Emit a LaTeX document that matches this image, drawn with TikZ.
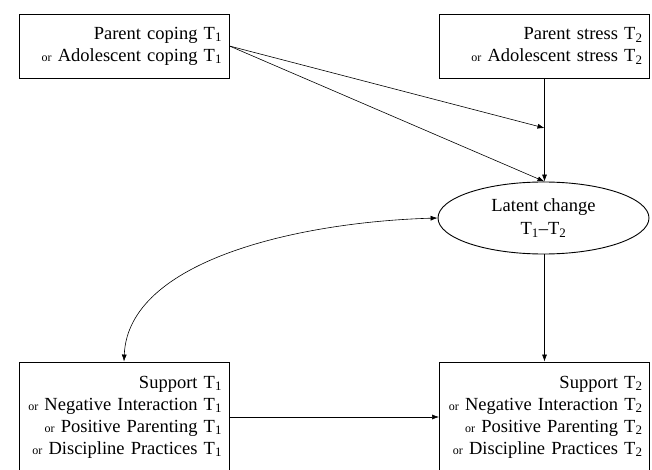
\documentclass[tikz,border=0pt]{standalone}
\usepackage{fontspec}
\setmainfont{Liberation Serif}
\usetikzlibrary{arrows.meta,shapes.geometric,calc}
\newcommand\sbs[1]{\textsubscript{#1}}
\newcommand\orw{{\fontsize{12}{12}\selectfont or }}
\begin{document}
\begin{tikzpicture}[x=1pt,y=1pt,
  box/.style={draw,line width=0.9pt,inner sep=0pt,minimum width=210pt,
    font=\fontsize{18.5}{22}\selectfont,align=right,text width=196pt},
  latent/.style={draw,ellipse,line width=0.9pt,inner sep=0pt,minimum width=211pt,
    minimum height=72pt,font=\fontsize{18.5}{23}\selectfont,align=center},
  conn/.style={line width=0.6pt,-{Latex[length=7pt,width=5pt]}},
  dconn/.style={line width=0.6pt,{Latex[length=7pt,width=5pt]}-{Latex[length=7pt,width=5pt]}}
]
\useasboundingbox (0,0) rectangle (652,-470);
\node[box,minimum height=64pt] (A) at (124,-46) {Parent coping T\sbs{1}\\\orw Adolescent coping T\sbs{1}};
\node[box,minimum height=64pt] (B) at (544.5,-46) {Parent stress T\sbs{2}\\\orw Adolescent stress T\sbs{2}};
\node[latent] (L) at (543.5,-218) {Latent change\\T\sbs{1}–T\sbs{2}};
\node[box,minimum height=110pt] (C) at (124,-417) {Support T\sbs{1}\\\orw Negative Interaction T\sbs{1}\\\orw Positive Parenting T\sbs{1}\\\orw Discipline Practices T\sbs{1}};
\node[box,minimum height=110pt] (D) at (544.5,-417) {Support T\sbs{2}\\\orw Negative Interaction T\sbs{2}\\\orw Positive Parenting T\sbs{2}\\\orw Discipline Practices T\sbs{2}};
\coordinate (M) at (544.5,-128);
\draw[conn] (B.south) -- (L.north -| B.south);
\draw[conn] (A.east) -- (M);
\draw[conn] (A.east) -- (L.north -| B.south);
\draw[conn] (L.south -| D.north) -- (D.north);
\draw[conn] (C.east) -- (D.west);
\draw[dconn] (L.west) .. controls (300,-222) and (128,-260) .. (C.north);
\end{tikzpicture}
\end{document}
